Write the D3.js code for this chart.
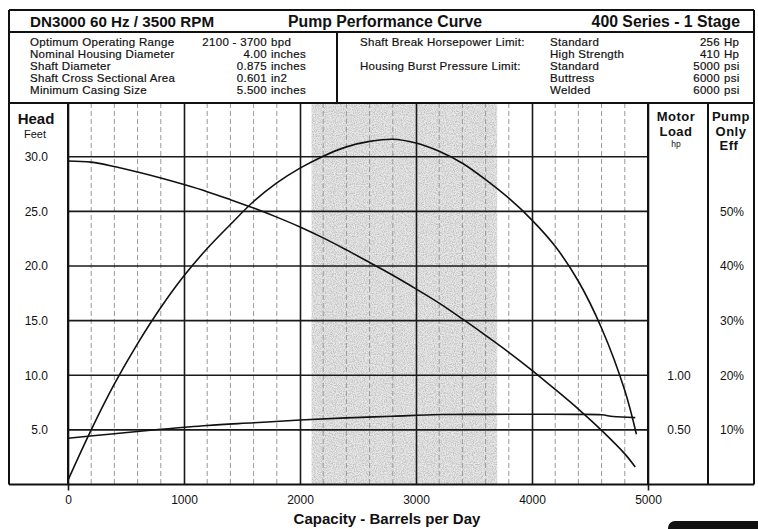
<!DOCTYPE html>
<html>
<head>
<meta charset="utf-8">
<script src="https://cdn.jsdelivr.net/npm/d3@7"></script>
<style>
  body { margin: 0; background: #fff; }
  svg { display: block; font-family: "Liberation Sans", Arial, sans-serif; }
</style>
</head>
<body>
<div id="wrapper"></div>
<script>
// capacity (bpd) where curves were read
const headCapacity = [0, 200, 400, 600, 800, 1000, 1200, 1400, 1600, 1800, 2000, 2200, 2400, 2600, 2800, 3000, 3200, 3400, 3600, 3800, 4000, 4200, 4400, 4600, 4800, 4890]
const headFeet = [29.6, 29.5, 29.1, 28.6, 28.05, 27.45, 26.8, 26.07, 25.3, 24.47, 23.57, 22.57, 21.47, 20.32, 19.15, 17.9, 16.6, 15.15, 13.65, 12.1, 10.45, 8.7, 6.9, 4.95, 2.8, 1.6]

const effCapacity = [0, 200, 400, 600, 800, 1000, 1200, 1400, 1600, 1800, 2000, 2200, 2400, 2600, 2800, 3000, 3200, 3400, 3600, 3800, 4000, 4200, 4400, 4600, 4800, 4900]
const effPercent = [0.8, 10.0, 18.4, 25.8, 32.4, 38.2, 43.2, 47.6, 51.8, 55.2, 57.9, 60.1, 61.8, 62.8, 63.2, 62.5, 61.0, 58.8, 55.8, 52.4, 48.4, 43.6, 37.2, 28.6, 17.2, 9.2]

const loadCapacity = [0, 400, 800, 1200, 1600, 2000, 2400, 2800, 3200, 3600, 4000, 4400, 4600, 4700, 4890]
const loadHp = [0.423, 0.465, 0.505, 0.54, 0.565, 0.59, 0.61, 0.625, 0.64, 0.642, 0.643, 0.642, 0.638, 0.622, 0.612]

const xTicks = [0, 1000, 2000, 3000, 4000, 5000]
const headTicks = [5, 10, 15, 20, 25, 30]
const loadTicks = [0.5, 1.0]
const effTicks = [10, 20, 30, 40, 50]
const optimumRange = [2100, 3700]

const infoLeft = [
  ["Optimum Operating Range", "2100 - 3700", "bpd"],
  ["Nominal Housing Diameter", "4.00", "inches"],
  ["Shaft Diameter", "0.875", "inches"],
  ["Shaft Cross Sectional Area", "0.601", "in2"],
  ["Minimum Casing Size", "5.500", "inches"],
]
const infoRightLabels = ["Shaft Break Horsepower Limit:", "", "Housing Burst Pressure Limit:", "", ""]
const infoRight = [
  ["Standard", "256", "Hp"],
  ["High Strength", "410", "Hp"],
  ["Standard", "5000", "psi"],
  ["Buttress", "6000", "psi"],
  ["Welded", "6000", "psi"],
]

function drawChart() {
  let dimensions = {
    width: 758,
    height: 529,
    frameLeft: 9,
    frameRight: 754,
    frameTop: 10,
    titleBottom: 32,
    plotTop: 103,
    plotBottom: 484.5,
    plotLeft: 68,
    plotRight: 648,
    motorRight: 708,
  }

  const svg = d3.select("#wrapper")
    .append("svg")
      .attr("width", dimensions.width)
      .attr("height", dimensions.height)

  // scales
  const xScale = d3.scaleLinear()
      .domain([0, 5000])
      .range([dimensions.plotLeft, dimensions.plotRight])

  const yScale = d3.scaleLinear()
      .domain([0, 30])
      .range([dimensions.plotBottom, 156.7])
  const headMax = yScale.invert(dimensions.plotTop)
  yScale.domain([0, headMax]).range([dimensions.plotBottom, dimensions.plotTop])

  const loadScale = d3.scaleLinear()
      .domain([0, headMax / 10])
      .range(yScale.range())
  const effScale = d3.scaleLinear()
      .domain([0, headMax * 2])
      .range(yScale.range())

  // optimum range shading (stippled)
  const defs = svg.append("defs")
  const filter = defs.append("filter")
      .attr("id", "stipple")
      .attr("x", 0).attr("y", 0).attr("width", 1).attr("height", 1)
  filter.append("feTurbulence")
      .attr("type", "fractalNoise")
      .attr("baseFrequency", 0.9)
      .attr("numOctaves", 2)
      .attr("seed", 3)
      .attr("result", "noise")
  filter.append("feColorMatrix")
      .attr("in", "noise")
      .attr("type", "matrix")
      .attr("values", "0 0 0 0 0.5  0 0 0 0 0.5  0 0 0 0 0.5  0 0 0 -2.2 1.4")
      .attr("result", "dots")
  filter.append("feComposite")
      .attr("in", "dots")
      .attr("in2", "SourceGraphic")
      .attr("operator", "in")

  const shadeX = xScale(optimumRange[0])
  const shadeW = xScale(optimumRange[1]) - shadeX
  svg.append("rect")
      .attr("x", shadeX)
      .attr("y", dimensions.plotTop)
      .attr("width", shadeW)
      .attr("height", dimensions.plotBottom - dimensions.plotTop)
      .attr("fill", "#e8e8e8")
  svg.append("rect")
      .attr("x", shadeX)
      .attr("y", dimensions.plotTop)
      .attr("width", shadeW)
      .attr("height", dimensions.plotBottom - dimensions.plotTop)
      .attr("fill", "#000")
      .attr("filter", "url(#stipple)")

  // minor vertical grid
  const minorTicks = d3.range(200, 5000, 200).filter(d => d % 1000 !== 0)
  svg.append("g")
    .selectAll("line")
    .data(minorTicks)
    .join("line")
      .attr("x1", d => xScale(d))
      .attr("x2", d => xScale(d))
      .attr("y1", dimensions.plotTop)
      .attr("y2", dimensions.plotBottom)
      .attr("stroke", "#999")
      .attr("stroke-width", 1)
      .attr("stroke-dasharray", "5,3")

  // major horizontal grid
  svg.append("g")
    .selectAll("line")
    .data(headTicks)
    .join("line")
      .attr("x1", dimensions.plotLeft)
      .attr("x2", dimensions.plotRight)
      .attr("y1", d => yScale(d))
      .attr("y2", d => yScale(d))
      .attr("stroke", "#1a1a1a")
      .attr("stroke-width", 1.6)

  // x axis with major verticals
  const xAxisGenerator = d3.axisBottom(xScale)
      .tickValues(xTicks)
      .tickFormat(d3.format("d"))
      .tickSizeOuter(0)
      .tickPadding(5)
  const xAxis = svg.append("g")
      .attr("transform", `translate(0, ${dimensions.plotBottom})`)
      .call(xAxisGenerator)
  xAxis.select(".domain").remove()
  xAxis.selectAll(".tick line")
      .attr("stroke", "#1a1a1a")
      .attr("stroke-width", 1.6)
      .attr("y1", -(dimensions.plotBottom - dimensions.plotTop))
      .attr("y2", d => (d === 0 || d === 5000) ? 6 : 0)
  xAxis.selectAll(".tick text")
      .attr("fill", "#111")
      .style("font-size", "12px")
      .style("font-family", "'Liberation Sans', Arial, sans-serif")

  // y axis labels (Head)
  const yAxisGenerator = d3.axisLeft(yScale)
      .tickValues(headTicks)
      .tickFormat(d3.format(".1f"))
      .tickSize(0)
      .tickPadding(20)
  const yAxis = svg.append("g")
      .attr("transform", `translate(${dimensions.plotLeft}, 0)`)
      .call(yAxisGenerator)
  yAxis.select(".domain").remove()
  yAxis.selectAll(".tick text")
      .attr("fill", "#111")
      .style("font-size", "12px")
      .style("font-family", "'Liberation Sans', Arial, sans-serif")

  // motor load labels
  const loadAxis = svg.append("g")
      .attr("transform", `translate(${(dimensions.plotRight + dimensions.motorRight) / 2 + 1}, 0)`)
      .call(d3.axisRight(loadScale).tickValues(loadTicks).tickFormat(d3.format(".2f")).tickSize(0).tickPadding(0))
  loadAxis.select(".domain").remove()
  loadAxis.selectAll(".tick text")
      .attr("text-anchor", "middle")
      .attr("fill", "#111")
      .style("font-size", "12px")
      .style("font-family", "'Liberation Sans', Arial, sans-serif")

  // pump efficiency labels
  const effAxis = svg.append("g")
      .attr("transform", `translate(${(dimensions.motorRight + dimensions.frameRight) / 2 + 1}, 0)`)
      .call(d3.axisRight(effScale).tickValues(effTicks).tickFormat(d => d + "%").tickSize(0).tickPadding(0))
  effAxis.select(".domain").remove()
  effAxis.selectAll(".tick text")
      .attr("text-anchor", "middle")
      .attr("fill", "#111")
      .style("font-size", "12px")
      .style("font-family", "'Liberation Sans', Arial, sans-serif")

  // curves
  const headData = headCapacity.map((q, i) => ({q: q, v: headFeet[i]}))
  const effData = effCapacity.map((q, i) => ({q: q, v: effPercent[i]}))
  const loadData = loadCapacity.map((q, i) => ({q: q, v: loadHp[i]}))

  const drawCurve = (data, scale) => {
    const lineGenerator = d3.line()
      .x(d => xScale(d.q))
      .y(d => scale(d.v))
      .curve(d3.curveCatmullRom.alpha(0.5))
    svg.append("path")
      .attr("d", lineGenerator(data))
      .attr("fill", "none")
      .attr("stroke", "#111")
      .attr("stroke-width", 1.6)
  }
  drawCurve(headData, yScale)
  drawCurve(effData, effScale)
  drawCurve(loadData, loadScale)

  // frame lines
  const frameLines = [
    [dimensions.frameLeft, dimensions.frameTop, dimensions.frameRight, dimensions.frameTop],
    [dimensions.frameLeft, dimensions.titleBottom, dimensions.frameRight, dimensions.titleBottom],
    [dimensions.frameLeft, dimensions.plotTop, dimensions.frameRight, dimensions.plotTop],
    [dimensions.frameLeft, dimensions.plotBottom, dimensions.frameRight, dimensions.plotBottom],
    [dimensions.frameLeft, dimensions.frameTop, dimensions.frameLeft, dimensions.plotBottom],
    [dimensions.frameRight, dimensions.frameTop, dimensions.frameRight, dimensions.plotBottom],
    [337, dimensions.titleBottom, 337, dimensions.plotTop],
    [dimensions.plotLeft, dimensions.plotTop, dimensions.plotLeft, dimensions.plotBottom],
    [dimensions.plotRight, dimensions.plotTop, dimensions.plotRight, dimensions.plotBottom],
    [dimensions.motorRight, dimensions.plotTop, dimensions.motorRight, dimensions.plotBottom],
  ]
  svg.append("g")
    .selectAll("line")
    .data(frameLines)
    .join("line")
      .attr("x1", d => d[0]).attr("y1", d => d[1])
      .attr("x2", d => d[2]).attr("y2", d => d[3])
      .attr("stroke", "#111")
      .attr("stroke-width", 2)

  // title row
  const titleRow = [
    {text: "DN3000 60 Hz / 3500 RPM", x: 30, anchor: "start", size: 15.2},
    {text: "Pump Performance Curve", x: 385, anchor: "middle", size: 15.8},
    {text: "400 Series - 1 Stage", x: 740, anchor: "end", size: 15.8},
  ]
  svg.append("g")
    .selectAll("text")
    .data(titleRow)
    .join("text")
      .attr("x", d => d.x)
      .attr("y", 27)
      .attr("text-anchor", d => d.anchor)
      .style("font-size", d => d.size + "px")
      .style("font-weight", "bold")
      .attr("fill", "#111")
      .text(d => d.text)

  // info rows
  const rowY = i => 41.5 + i * 12
  const info = svg.append("g")
      .style("font-size", "11.5px")
      .style("letter-spacing", "0.3px")
      .attr("fill", "#111")
      .attr("stroke", "#111")
      .attr("stroke-width", 0.2)
  infoLeft.forEach((row, i) => {
    info.append("text").attr("x", 30).attr("y", rowY(i)).attr("dy", "0.36em").text(row[0])
    info.append("text").attr("x", 267).attr("y", rowY(i)).attr("dy", "0.36em").attr("text-anchor", "end").text(row[1])
    info.append("text").attr("x", 271).attr("y", rowY(i)).attr("dy", "0.36em").text(row[2])
  })
  infoRightLabels.forEach((label, i) => {
    if (label) info.append("text").attr("x", 360).attr("y", rowY(i)).attr("dy", "0.36em").text(label)
  })
  infoRight.forEach((row, i) => {
    info.append("text").attr("x", 550).attr("y", rowY(i)).attr("dy", "0.36em").text(row[0])
    info.append("text").attr("x", 720).attr("y", rowY(i)).attr("dy", "0.36em").attr("text-anchor", "end").text(row[1])
    info.append("text").attr("x", 724).attr("y", rowY(i)).attr("dy", "0.36em").text(row[2])
  })

  // column headers
  const headers = [
    {text: "Head", x: 36, y: 124, size: 15, bold: true},
    {text: "Feet", x: 35, y: 138, size: 11, bold: false},
    {text: "Motor", x: 676, y: 121, size: 13, bold: true},
    {text: "Load", x: 676, y: 135.6, size: 13, bold: true},
    {text: "hp", x: 676, y: 146.6, size: 8.5, bold: false},
    {text: "Pump", x: 731, y: 121, size: 13, bold: true},
    {text: "Only", x: 731, y: 135.6, size: 13, bold: true},
    {text: "Eff", x: 729, y: 150.4, size: 13, bold: true},
  ]
  svg.append("g")
    .selectAll("text")
    .data(headers)
    .join("text")
      .attr("x", d => d.x)
      .attr("y", d => d.y)
      .attr("text-anchor", "middle")
      .style("font-size", d => d.size + "px")
      .style("font-weight", d => d.bold ? "bold" : "normal")
      .style("letter-spacing", d => d.bold && d.size < 15 ? "0.5px" : "0px")
      .attr("fill", "#111")
      .text(d => d.text)

  // x axis title
  svg.append("text")
      .attr("x", 387)
      .attr("y", 524)
      .attr("text-anchor", "middle")
      .style("font-size", "15px")
      .style("font-weight", "bold")
      .attr("fill", "#111")
      .text("Capacity - Barrels per Day")

  // black tab at bottom right corner
  svg.append("rect")
      .attr("x", 668)
      .attr("y", 521)
      .attr("width", 110)
      .attr("height", 20)
      .attr("rx", 7)
      .attr("fill", "#111")
}
drawChart()
</script>
</body>
</html>
